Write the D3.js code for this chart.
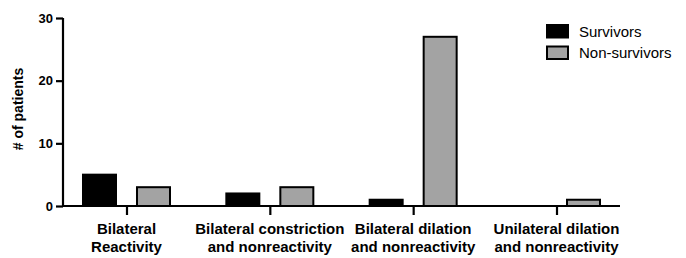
<!DOCTYPE html>
<html>
<head>
<meta charset="utf-8">
<script src="https://cdn.jsdelivr.net/npm/d3@7"></script>
<style>
  body { margin: 0; background: #fff; }
  svg text { font-family: "Liberation Sans", Arial, sans-serif; }
</style>
</head>
<body>
<div id="chart"></div>
<script>
// categories and values
var categories = [
  ["Bilateral", "Reactivity"],
  ["Bilateral constriction", "and nonreactivity"],
  ["Bilateral dilation", "and nonreactivity"],
  ["Unilateral dilation", "and nonreactivity"]
];
var survivors = [5, 2, 1, 0];
var nonSurvivors = [3, 3, 27, 1];
var yTicks = [0, 10, 20, 30];
var seriesNames = ["Survivors", "Non-survivors"];
var seriesColors = ["#000000", "#a3a3a3"];

var svgWidth = 686;
var svgHeight = 258;

var svg = d3.select("#chart")
  .append("svg")
  .attr("width", svgWidth)
  .attr("height", svgHeight);

// plot area edges
var plotLeft = 63, plotRight = 620, plotTop = 18, plotBottom = 206;

var xScale = d3.scalePoint()
  .domain(d3.range(categories.length))
  .range([plotLeft, plotRight])
  .padding(0.443);

var yScale = d3.scaleLinear()
  .domain([0, 30])
  .range([plotBottom, plotTop]);

// bars
var barW = 33, offset = 27;
var series = [survivors, nonSurvivors];
series.forEach(function(vals, s) {
  svg.append("g").selectAll("rect")
    .data(vals)
    .enter()
    .append("rect")
    .attr("x", (d, i) => xScale(i) + (s === 0 ? -offset : offset) - barW / 2)
    .attr("y", d => yScale(d))
    .attr("width", barW)
    .attr("height", d => plotBottom - yScale(d))
    .attr("fill", seriesColors[s])
    .attr("stroke", "#000")
    .attr("stroke-width", 2);
});

// y axis
var leftAxis = d3.axisLeft(yScale)
  .tickValues(yTicks)
  .tickSize(7)
  .tickPadding(3);

var yG = svg.append("g")
  .attr("transform", `translate(${plotLeft}, 0)`)
  .call(leftAxis);
yG.select(".domain").attr("stroke-width", 2.2).attr("d", `M0,${plotTop}V${plotBottom}`);
yG.selectAll(".tick line").attr("stroke-width", 2.2);
yG.selectAll(".tick text")
  .attr("font-size", 13)
  .attr("font-weight", "bold")
  .attr("fill", "#000");

// x axis
var bottomAxis = d3.axisBottom(xScale)
  .tickSize(9)
  .tickFormat("");

var xG = svg.append("g")
  .attr("transform", `translate(0, ${plotBottom})`)
  .call(bottomAxis);
xG.select(".domain").attr("stroke-width", 2.2).attr("d", `M${plotLeft - 1},0H${plotRight}`);
xG.selectAll(".tick line").attr("stroke-width", 2.2);

// category labels (two lines)
var labels = svg.append("g").selectAll("text")
  .data(categories)
  .enter()
  .append("text")
  .attr("x", (d, i) => xScale(i))
  .attr("y", 234)
  .attr("text-anchor", "middle")
  .attr("font-size", 15)
  .attr("font-weight", "bold")
  .attr("fill", "#000");

labels.each(function(d) {
  var t = d3.select(this);
  d.forEach(function(line, k) {
    t.append("tspan")
      .attr("x", t.attr("x"))
      .attr("dy", k === 0 ? 0 : 18)
      .text(line);
  });
});

// y axis title
svg.append("text")
  .attr("transform", "translate(23, 109) rotate(-90)")
  .attr("text-anchor", "middle")
  .attr("font-size", 14)
  .attr("font-weight", "bold")
  .text("# of patients");

// legend
var legend = svg.append("g").selectAll("g")
  .data(seriesNames)
  .enter()
  .append("g")
  .attr("transform", (d, i) => `translate(547, ${25 + i * 21.5})`);

legend.append("rect")
  .attr("width", 21)
  .attr("height", 12.5)
  .attr("fill", (d, i) => seriesColors[i])
  .attr("stroke", "#000")
  .attr("stroke-width", 2);

legend.append("text")
  .attr("x", 32)
  .attr("y", 6.5)
  .attr("dy", "0.35em")
  .attr("font-size", 15)
  .attr("fill", "#000")
  .text(d => d);
</script>
</body>
</html>
